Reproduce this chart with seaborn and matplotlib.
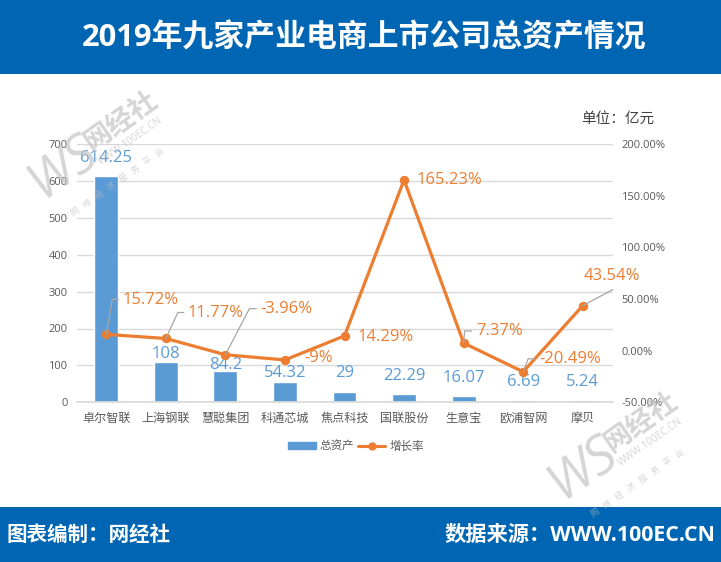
import numpy as np
import pandas as pd
import seaborn as sns
import matplotlib
matplotlib.use("Agg")
import matplotlib.pyplot as plt
from matplotlib.lines import Line2D
from matplotlib.patches import Patch, Rectangle
from matplotlib.transforms import Affine2D

companies = ["卓尔智联", "上海钢联", "慧聪集团", "科通芯城", "焦点科技", "国联股份", "生意宝", "欧浦智网", "摩贝"]
assets = [614.25, 108, 84.2, 54.32, 29, 22.29, 16.07, 6.69, 5.24]
growth = [15.72, 11.77, -3.96, -9, 14.29, 165.23, 7.37, -20.49, 43.54]
asset_labels = ["614.25", "108", "84.2", "54.32", "29", "22.29", "16.07", "6.69", "5.24"]
growth_labels = ["15.72%", "11.77%", "-3.96%", "-9%", "14.29%", "165.23%", "7.37%", "-20.49%", "43.54%"]
left_ticks = [0, 100, 200, 300, 400, 500, 600, 700]
right_ticks = [-50, 0, 50, 100, 150, 200]

asset_dy = [18, 8, 6, 9, 19, 18, 18, 18, 18]
growth_off = [(44, 34), (50, 25), (61, 46), (34, 2), (41, -1), (45, 0), (36, 12), (47, 13), (29, 30)]
leaders = {0: [(0, 0), (6, 35), (12, 35)], 1: [(0, 0), (12, 26), (18, 26)], 2: [(0, 0), (24, 46), (31, 46)],
           6: [(0, 0), (1, 12), (8, 12)], 7: [(0, 0), (5, 13), (12, 13)], 8: [(0, 0), (30, 16)]}

W, H = 721, 562
BLUE, ORANGE, HEAD = "#5B9BD5", "#ED7D31", "#0066B3"
sns.set_theme(style="white")
plt.rcParams["font.family"] = ["Open Sans", "Noto Sans CJK SC", "DejaVu Sans"]
plt.rcParams["axes.unicode_minus"] = False

fig = plt.figure(figsize=(W / 100, H / 100), dpi=100, facecolor="white")
ax = fig.add_axes([76.5 / W, (H - 402.3) / H, 536 / W, 258.3 / H])
df = pd.DataFrame({"公司": companies, "总资产": assets, "增长率": growth, "pos": np.arange(len(companies))})
sns.barplot(data=df, x="公司", y="总资产", color=BLUE, saturation=1, width=0.4, ax=ax, zorder=2)
ax.set_xlim(-0.5, 8.5)
ax.set_ylim(0, 700)
ax.set_yticks(left_ticks)
ax.set_xlabel("")
ax.set_ylabel("")
ax.grid(axis="y", color="#D9D9D9", lw=1, zorder=0)
ax.set_axisbelow(True)
for s in ["top", "left", "right"]:
    ax.spines[s].set_visible(False)
ax.spines["bottom"].set_color("#D9D9D9")
ax.tick_params(axis="y", length=0, labelsize=8, labelcolor="#595959", pad=6.5)
ax.tick_params(axis="x", length=0, labelsize=8.7, labelcolor="#595959", pad=7)

ax2 = ax.twinx()
sns.lineplot(data=df, x="pos", y="增长率", color=ORANGE, lw=2.3, marker="o", markersize=6,
             markeredgecolor=ORANGE, ax=ax2, zorder=5, errorbar=None)
ax2.set_xlim(-0.5, 8.5)
ax2.set_ylim(-50, 200)
ax2.set_yticks(right_ticks)
ax2.set_yticklabels([f"{t:.2f}%" for t in right_ticks])
ax2.set_ylabel("")
for s in ax2.spines.values():
    s.set_visible(False)
ax2.tick_params(axis="y", length=0, labelsize=8, labelcolor="#595959", pad=6.5)
ax2.grid(False)

# value labels and leader lines, placed by pixel offset from their marks
for i, (v, txt, dy) in enumerate(zip(assets, asset_labels, asset_dy)):
    ax.annotate(txt, (i, v), xytext=(0, dy), textcoords="offset pixels", ha="center", va="center",
                fontsize=12, color=BLUE, zorder=6)
for i, (v, txt, off) in enumerate(zip(growth, growth_labels, growth_off)):
    ax2.annotate(txt, (i, v), xytext=off, textcoords="offset pixels", ha="center", va="center",
                 fontsize=12, color=ORANGE, zorder=6)
    if i in leaders:
        px, py = ax2.transData.transform((i, v))
        xs, ys = zip(*leaders[i])
        fig.add_artist(Line2D(xs, ys, color="#A6A6A6", lw=0.9, transform=Affine2D().translate(px, py), zorder=4))

fig.text(618 / W, 1 - 119 / H, "单位：亿元", ha="center", va="center", fontsize=10.5, color="#404040")

handles = [Patch(facecolor=BLUE, edgecolor=BLUE), Line2D([0], [0], color=ORANGE, lw=2.2, marker="o", markersize=5)]
fig.legend(handles, ["总资产", "增长率"], loc="center", bbox_to_anchor=(356 / W, 1 - 446 / H), ncol=2, frameon=False,
           fontsize=8.3, labelcolor="#595959", handlelength=2.4, handleheight=0.5, handletextpad=0.35, columnspacing=0.3)

# header and footer bands
fig.add_artist(Rectangle((0, 1 - 74 / H), 1, 74 / H, transform=fig.transFigure, color=HEAD, lw=0, zorder=0))
fig.add_artist(Rectangle((0, 0), 1, 55 / H, transform=fig.transFigure, color=HEAD, lw=0, zorder=0))
fig.text(364 / W, 1 - 38 / H, "2019年九家产业电商上市公司总资产情况", ha="center", va="center", fontsize=22.2,
         fontweight="bold", color="white")
fig.text(7 / W, 1 - 535 / H, "图表编制：网经社", ha="left", va="center", fontsize=14.8, fontweight="bold", color="white")
fig.text(715 / W, 1 - 535 / H, "数据来源：WWW.100EC.CN", ha="right", va="center", fontsize=15.3, fontweight="bold", color="white")


def watermark(cx, cy):
    base = Affine2D().rotate_deg(35).translate(cx, H - cy)
    kw = dict(transform=base, rotation=35, rotation_mode="anchor", ha="left", va="center", color="#BFBFBF", alpha=0.65, zorder=8)
    fig.text(-66, 0, "WS", fontsize=38, style="italic", **kw)
    fig.text(2, 4, "网经社", fontsize=20, fontweight="bold", **kw)
    fig.text(2, -17, "WWW.100EC.CN", fontsize=7.2, **kw)
    fig.text(-50, -44, "网   络   经   济   服   务   平   台", fontsize=6, **kw)


watermark(88, 150)
watermark(608, 451)

fig.savefig("out.png", dpi=100, facecolor="white")
